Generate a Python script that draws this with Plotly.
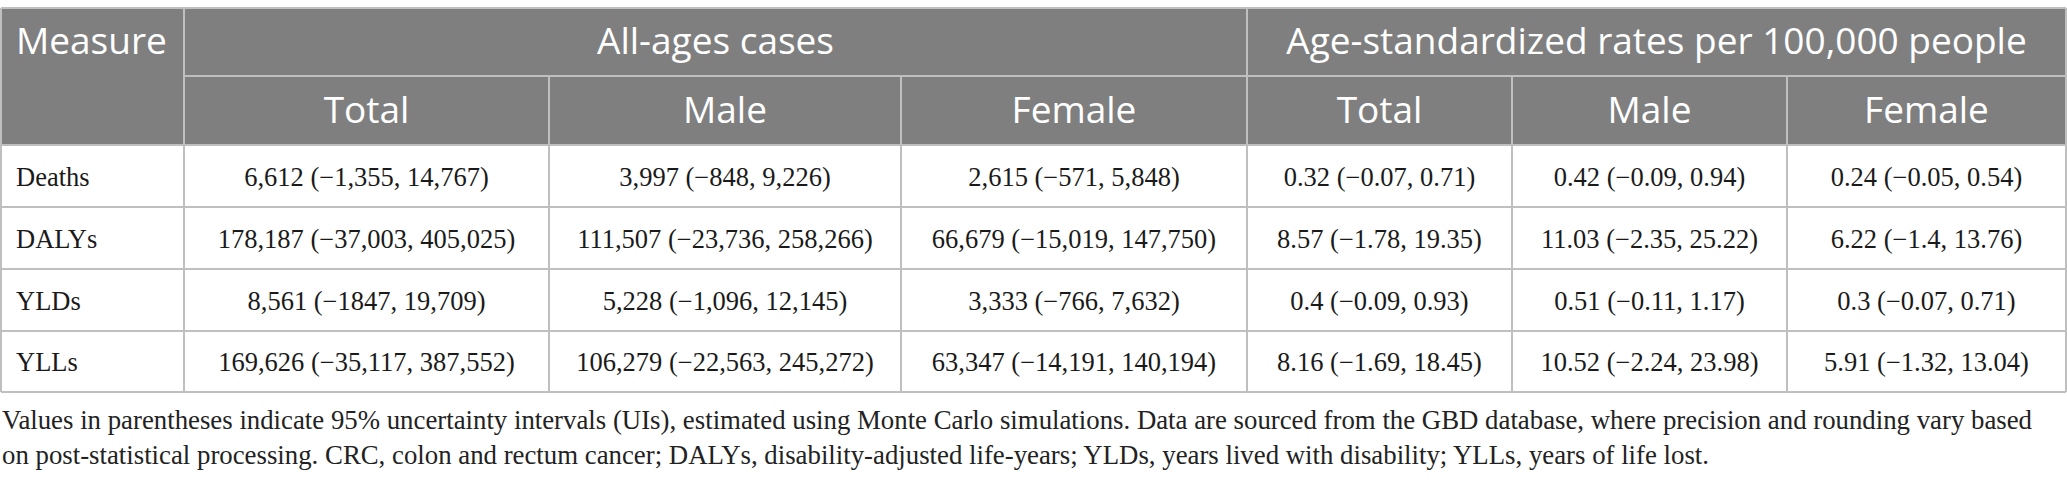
import plotly.graph_objects as go

# Table content
measures = ["Deaths", "DALYs", "YLDs", "YLLs"]
group_labels = ["All-ages cases", "Age-standardized rates per 100,000 people"]
sex_labels = ["Total", "Male", "Female"]

cases_total = ["6,612 (−1,355, 14,767)", "178,187 (−37,003, 405,025)",
               "8,561 (−1847, 19,709)", "169,626 (−35,117, 387,552)"]
cases_male = ["3,997 (−848, 9,226)", "111,507 (−23,736, 258,266)",
              "5,228 (−1,096, 12,145)", "106,279 (−22,563, 245,272)"]
cases_female = ["2,615 (−571, 5,848)", "66,679 (−15,019, 147,750)",
                "3,333 (−766, 7,632)", "63,347 (−14,191, 140,194)"]
rate_total = ["0.32 (−0.07, 0.71)", "8.57 (−1.78, 19.35)",
              "0.4 (−0.09, 0.93)", "8.16 (−1.69, 18.45)"]
rate_male = ["0.42 (−0.09, 0.94)", "11.03 (−2.35, 25.22)",
             "0.51 (−0.11, 1.17)", "10.52 (−2.24, 23.98)"]
rate_female = ["0.24 (−0.05, 0.54)", "6.22 (−1.4, 13.76)",
               "0.3 (−0.07, 0.71)", "5.91 (−1.32, 13.04)"]

footnote_lines = [
    "Values in parentheses indicate 95% uncertainty intervals (UIs), estimated using Monte Carlo simulations. "
    "Data are sourced from the GBD database, where precision and rounding vary based",
    "on post-statistical processing. CRC, colon and rectum cancer; DALYs, disability-adjusted life-years; "
    "YLDs, years lived with disability; YLLs, years of life lost.",
]

# Geometry (pixels, axis units == pixels)
W, H = 2067, 487
col_edges = [1, 184, 549, 901, 1247, 1512, 1787, 2066]
row_edges = [8, 76, 145, 207, 269, 331, 392]

HEADER_BG = "#7f7f7f"
GRID = "#bfbfbf"
SANS = "Open Sans"
SERIF = "Liberation Serif"
HEAD_SIZE = 37
BODY_SIZE = 26.5

fig = go.Figure()

# header background
fig.add_shape(type="rect", x0=col_edges[0], x1=col_edges[-1], y0=row_edges[0], y1=row_edges[2],
              fillcolor=HEADER_BG, line_width=0, layer="below")

lines = []
# horizontal lines
lines.append((col_edges[0], row_edges[0], col_edges[-1], row_edges[0]))
lines.append((col_edges[1], row_edges[1], col_edges[-1], row_edges[1]))
for y in row_edges[2:]:
    lines.append((col_edges[0], y, col_edges[-1], y))
# vertical lines, top header row only at group borders
for x in [col_edges[0], col_edges[1], col_edges[4], col_edges[-1]]:
    lines.append((x, row_edges[0], x, row_edges[1]))
for x in col_edges:
    lines.append((x, row_edges[1], x, row_edges[-1]))
for x0, y0, x1, y1 in lines:
    fig.add_shape(type="line", x0=x0, y0=y0, x1=x1, y1=y1,
                  line=dict(color=GRID, width=2), layer="above")

centers = [(col_edges[i] + col_edges[i + 1]) / 2 for i in range(len(col_edges) - 1)]
row_mid = [(row_edges[i] + row_edges[i + 1]) / 2 + 3 for i in range(len(row_edges) - 1)]

head_font = dict(family=SANS, size=HEAD_SIZE, color="white")
body_font = dict(family=SERIF, size=BODY_SIZE, color="#1a1a1a")

# header texts
fig.add_trace(go.Scatter(
    x=[col_edges[0] + 15], y=[row_mid[0]], text=["Measure"], mode="text",
    textposition="middle right", textfont=head_font, hoverinfo="skip"))
fig.add_trace(go.Scatter(
    x=[(col_edges[1] + col_edges[4]) / 2, (col_edges[4] + col_edges[7]) / 2],
    y=[row_mid[0]] * 2, text=group_labels, mode="text",
    textposition="middle center", textfont=head_font, hoverinfo="skip"))
fig.add_trace(go.Scatter(
    x=centers[1:], y=[row_mid[1]] * 6, text=sex_labels * 2, mode="text",
    textposition="middle center", textfont=head_font, hoverinfo="skip"))

# body
fig.add_trace(go.Scatter(
    x=[col_edges[0] + 15] * 4, y=row_mid[2:], text=measures, mode="text",
    textposition="middle right", textfont=body_font, hoverinfo="skip"))
for i, col in enumerate([cases_total, cases_male, cases_female, rate_total, rate_male, rate_female]):
    fig.add_trace(go.Scatter(
        x=[centers[i + 1]] * 4, y=row_mid[2:], text=col, mode="text",
        textposition="middle center", textfont=body_font, hoverinfo="skip"))

# footnote
fig.add_annotation(
    x=0, y=437, xref="x", yref="y", xanchor="left", yanchor="middle",
    text="<br>".join(footnote_lines), showarrow=False, align="left",
    font=dict(family=SERIF, size=26.8, color="#222222"))

fig.update_layout(
    width=W, height=H,
    margin=dict(l=0, r=0, t=0, b=0),
    paper_bgcolor="white", plot_bgcolor="white",
    showlegend=False,
    xaxis=dict(range=[0, W], visible=False, fixedrange=True),
    yaxis=dict(range=[H, 0], visible=False, fixedrange=True),
)

# drop the default page margin so the figure sits at the window origin
fig.write_html("out.html", config={"displayModeBar": False},
               post_script="document.body.style.margin='0';")
